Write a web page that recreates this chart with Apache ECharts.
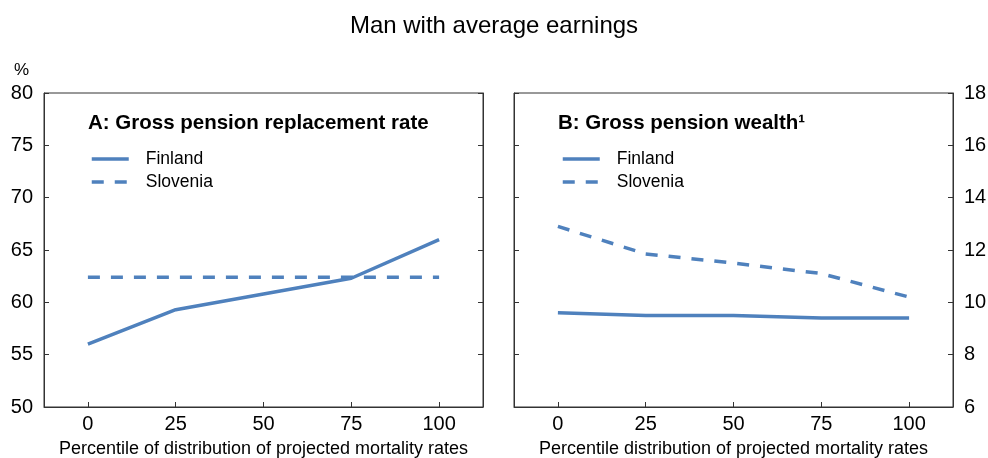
<!DOCTYPE html>
<html>
<head>
<meta charset="utf-8">
<script src="https://cdn.jsdelivr.net/npm/echarts@6/dist/echarts.min.js"></script>
<style>html,body{margin:0;padding:0;background:#fff}#c{width:988px;height:458px}</style>
</head>
<body>
<div id="c"></div>
<script>
var categories = ['0', '25', '50', '75', '100'];
var replFinland = [56.0, 59.3, 60.8, 62.3, 66.0];
var replSlovenia = [62.4, 62.4, 62.4, 62.4, 62.4];
var wealthFinland = [9.6, 9.5, 9.5, 9.4, 9.4];
var wealthSlovenia = [12.9, 11.85, 11.5, 11.1, 10.2];

var FONT = '"Liberation Sans", Arial, sans-serif';
var BLUE = '#4f81bd';
var AX = '#333333';

function xAxisFor(grid, name) {
  return {
    type: 'category', gridIndex: grid, data: categories, boundaryGap: true,
    axisLine: { show: true, lineStyle: { color: AX, width: 1 } },
    axisTick: { show: true, inside: true, alignWithLabel: true, length: 5, lineStyle: { color: AX } },
    axisLabel: { fontFamily: FONT, fontSize: 20, color: '#000', margin: 7 },
    name: name, nameLocation: 'middle', nameGap: 33,
    nameTextStyle: { fontFamily: FONT, fontSize: 18, color: '#000' }
  };
}
function yAxisFor(grid, pos, min, max, interval, showLabel) {
  return {
    type: 'value', gridIndex: grid, position: pos, min: min, max: max, interval: interval,
    splitLine: { show: false },
    axisLine: { show: true, lineStyle: { color: AX, width: 1 } },
    axisTick: { show: true, inside: true, length: 5, lineStyle: { color: AX } },
    axisLabel: { show: showLabel, fontFamily: FONT, fontSize: 20, color: '#000', margin: 11 }
  };
}
function lineSeries(name, x, y, data, dashed) {
  return {
    name: name, type: 'line', xAxisIndex: x, yAxisIndex: y, data: data,
    symbol: 'none', smooth: false, animation: false,
    lineStyle: { color: BLUE, width: 3.5, type: dashed ? [12, 11] : 'solid' },
    itemStyle: { color: BLUE }
  };
}
function legendAt(left) {
  return {
    left: left, top: 145, orient: 'vertical', itemWidth: 37, itemHeight: 14, itemGap: 5,
    data: ['Finland', 'Slovenia'], selectedMode: false,
    itemStyle: { opacity: 0, borderWidth: 0 },
    lineStyle: { width: 3.5 },
    textStyle: { fontFamily: FONT, fontSize: 17.5, color: '#000', padding: [0, 0, 0, 12] }
  };
}

var chart = echarts.init(document.getElementById('c'), null, { renderer: 'canvas' });
chart.setOption({
  animation: false,
  backgroundColor: '#fff',
  title: [
    { text: 'Man with average earnings', left: 'center', top: 9, textStyle: { fontFamily: FONT, fontSize: 24, fontWeight: 'normal', color: '#000' } },
    { text: '%', left: 9, top: 57, textStyle: { fontFamily: FONT, fontSize: 17, fontWeight: 'normal', color: '#000' } },
    { text: 'A: Gross pension replacement rate', left: 83, top: 108, textStyle: { fontFamily: FONT, fontSize: 20.5, fontWeight: 'bold', color: '#000' } },
    { text: 'B: Gross pension wealth\u00b9', left: 553, top: 108, textStyle: { fontFamily: FONT, fontSize: 20.5, fontWeight: 'bold', color: '#000' } }
  ],
  legend: [legendAt(85), legendAt(556)],
  grid: [
    { left: 44, right: 505, top: 93, bottom: 51, show: true, borderColor: AX, borderWidth: 1, containLabel: false, outerBoundsMode: 'none' },
    { left: 514, right: 35, top: 93, bottom: 51, show: true, borderColor: AX, borderWidth: 1, containLabel: false, outerBoundsMode: 'none' }
  ],
  xAxis: [
    xAxisFor(0, 'Percentile of distribution of projected mortality rates'),
    xAxisFor(1, 'Percentile distribution of projected mortality rates')
  ],
  yAxis: [
    yAxisFor(0, 'left', 50, 80, 5, true),
    yAxisFor(0, 'right', 50, 80, 5, false),
    yAxisFor(1, 'right', 6, 18, 2, true),
    yAxisFor(1, 'left', 6, 18, 2, false)
  ],
  series: [
    lineSeries('Finland', 0, 0, replFinland, false),
    lineSeries('Slovenia', 0, 0, replSlovenia, true),
    lineSeries('Finland', 1, 2, wealthFinland, false),
    lineSeries('Slovenia', 1, 2, wealthSlovenia, true)
  ]
});
</script>
</body>
</html>
